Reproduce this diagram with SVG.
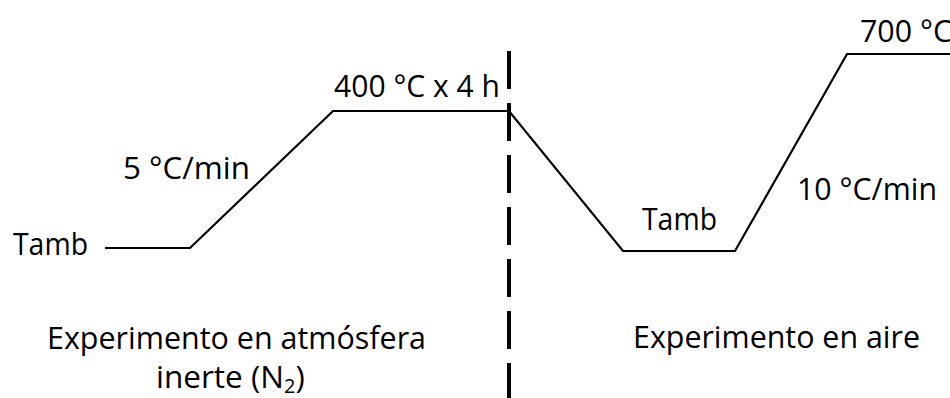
<svg xmlns="http://www.w3.org/2000/svg" width="950" height="398" viewBox="0 0 950 398">
  <style>
    .lbl { font-family: "Open Sans", "Liberation Sans", sans-serif; font-size: 31.5px; fill: #000; }
    .trace { fill: none; stroke: #000; stroke-width: 2.2; stroke-linejoin: miter; }
    .divider { stroke: #000; stroke-width: 4; stroke-dasharray: 38 14; }
  </style>
  <rect width="950" height="398" fill="#fff"/>

  <!-- temperature programme -->
  <g id="connectors">
    <path class="trace" d="M105,248 H190 L333,111 H509 L623,251 H735 L847,54 H952"/>
    <line class="divider" x1="509" y1="51" x2="509" y2="400"/>
  </g>

  <!-- inert atmosphere run -->
  <g id="inert">
    <text class="lbl" x="13" y="255" textLength="75" lengthAdjust="spacingAndGlyphs">Tamb</text>
    <text class="lbl" x="123" y="179" textLength="127" lengthAdjust="spacingAndGlyphs">5 °C/min</text>
    <text class="lbl" x="334" y="97" textLength="166" lengthAdjust="spacingAndGlyphs">400 °C x 4 h</text>
    <text class="lbl" x="47" y="349" textLength="379" lengthAdjust="spacingAndGlyphs">Experimento en atmósfera</text>
    <text class="lbl" x="156" y="388">inerte (N<tspan font-size="20" dy="5">2</tspan><tspan dy="-5">)</tspan></text>
  </g>

  <!-- air run -->
  <g id="air">
    <text class="lbl" x="642" y="230" textLength="75" lengthAdjust="spacingAndGlyphs">Tamb</text>
    <text class="lbl" x="797" y="200" textLength="140" lengthAdjust="spacingAndGlyphs">10 °C/min</text>
    <text class="lbl" x="860" y="42" textLength="92" lengthAdjust="spacingAndGlyphs">700 °C</text>
    <text class="lbl" x="633" y="348" textLength="287" lengthAdjust="spacingAndGlyphs">Experimento en aire</text>
  </g>
</svg>
